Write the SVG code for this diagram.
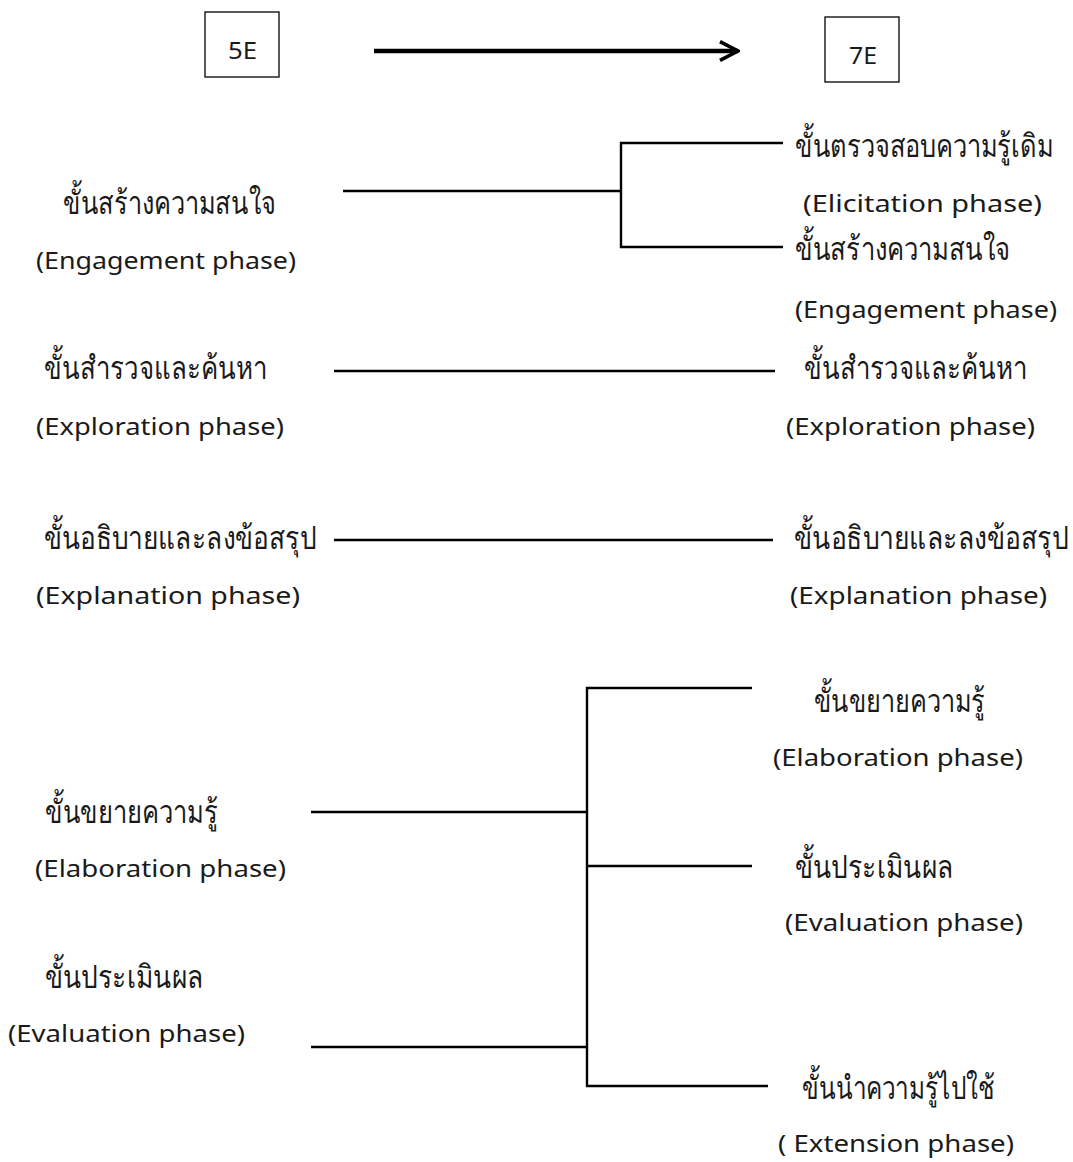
<svg xmlns="http://www.w3.org/2000/svg" width="1073" height="1162" viewBox="0 0 1073 1162">
<style>
text{font-family:"Noto Sans","DejaVu Sans",sans-serif;font-size:24px;fill:#1a1a1a}
text.th{font-size:32px}
.box{fill:#fff;stroke:#000;stroke-width:1.3}
.ln{stroke:#000;stroke-width:2.4;fill:none}
.big{stroke:#000;stroke-width:4.5;fill:none}
</style>
<defs>
<marker id="chev" viewBox="0 0 10 10" refX="9" refY="5" markerWidth="5" markerHeight="7" orient="auto" markerUnits="strokeWidth">
<path d="M1,0.8 L9,5 L1,9.2" fill="none" stroke="#000" stroke-width="1.6" stroke-linejoin="miter"/>
</marker>
</defs>
<rect width="1073" height="1162" fill="#fff"/>
<g id="node-5E"><rect class="box" x="205" y="12" width="74" height="65"/><text x="228" y="59" font-size="22" textLength="29" lengthAdjust="spacingAndGlyphs">5E</text></g>
<g id="node-7E"><rect class="box" x="825" y="17" width="74" height="65"/><text x="849" y="64" font-size="22" textLength="28" lengthAdjust="spacingAndGlyphs">7E</text></g>
<g id="connectors">
<line class="big" x1="374" y1="51" x2="738" y2="51" marker-end="url(#chev)"/>
<path class="ln" d="M343,191 H621 M783,143 H621 V247 H783"/>
<path class="ln" d="M334,371 H775"/>
<path class="ln" d="M334,540 H773"/>
<path class="ln" d="M311,812 H587 M311,1047 H587 M752,688 H587 V1086 H768 M587,866 H752"/>
</g>
<g id="l-engage"><text class="th" transform="translate(63,214) scale(0.8,1)" textLength="266" lengthAdjust="spacingAndGlyphs">ขั้นสร้างความสนใจ</text><text x="36" y="269" textLength="260" lengthAdjust="spacingAndGlyphs">(Engagement phase)</text></g>
<g id="l-explore"><text class="th" transform="translate(44,379) scale(0.8,1)" textLength="279" lengthAdjust="spacingAndGlyphs">ขั้นสำรวจและค้นหา</text><text x="36" y="435" textLength="248" lengthAdjust="spacingAndGlyphs">(Exploration phase)</text></g>
<g id="l-explain"><text class="th" transform="translate(44,549) scale(0.8,1)" textLength="340" lengthAdjust="spacingAndGlyphs">ขั้นอธิบายและลงข้อสรุป</text><text x="36" y="604" textLength="264" lengthAdjust="spacingAndGlyphs">(Explanation  phase)</text></g>
<g id="l-elab"><text class="th" transform="translate(45,823) scale(0.8,1)" textLength="216" lengthAdjust="spacingAndGlyphs">ขั้นขยายความรู้</text><text x="35" y="877" textLength="251" lengthAdjust="spacingAndGlyphs">(Elaboration phase)</text></g>
<g id="l-eval"><text class="th" transform="translate(45,988) scale(0.8,1)" textLength="198" lengthAdjust="spacingAndGlyphs">ขั้นประเมินผล</text><text x="8" y="1042" textLength="237" lengthAdjust="spacingAndGlyphs">(Evaluation phase)</text></g>
<g id="r-elicit"><text class="th" transform="translate(795,157) scale(0.8,1)" textLength="323" lengthAdjust="spacingAndGlyphs">ขั้นตรวจสอบความรู้เดิม</text><text x="803" y="212" textLength="239" lengthAdjust="spacingAndGlyphs">(Elicitation  phase)</text></g>
<g id="r-engage"><text class="th" transform="translate(795,260) scale(0.8,1)" textLength="269" lengthAdjust="spacingAndGlyphs">ขั้นสร้างความสนใจ</text><text x="795" y="318" textLength="262" lengthAdjust="spacingAndGlyphs">(Engagement phase)</text></g>
<g id="r-explore"><text class="th" transform="translate(804,379) scale(0.8,1)" textLength="279" lengthAdjust="spacingAndGlyphs">ขั้นสำรวจและค้นหา</text><text x="786" y="435" textLength="249" lengthAdjust="spacingAndGlyphs">(Exploration phase)</text></g>
<g id="r-explain"><text class="th" transform="translate(794,549) scale(0.8,1)" textLength="343" lengthAdjust="spacingAndGlyphs">ขั้นอธิบายและลงข้อสรุป</text><text x="790" y="604" textLength="257" lengthAdjust="spacingAndGlyphs">(Explanation  phase)</text></g>
<g id="r-elab"><text class="th" transform="translate(814,712) scale(0.8,1)" textLength="214" lengthAdjust="spacingAndGlyphs">ขั้นขยายความรู้</text><text x="773" y="766" textLength="250" lengthAdjust="spacingAndGlyphs">(Elaboration phase)</text></g>
<g id="r-eval"><text class="th" transform="translate(795,878) scale(0.8,1)" textLength="198" lengthAdjust="spacingAndGlyphs">ขั้นประเมินผล</text><text x="785" y="931" textLength="238" lengthAdjust="spacingAndGlyphs">(Evaluation phase)</text></g>
<g id="r-extend"><text class="th" transform="translate(802,1099) scale(0.8,1)" textLength="241" lengthAdjust="spacingAndGlyphs">ขั้นนำความรู้ไปใช้</text><text x="778" y="1152" textLength="236" lengthAdjust="spacingAndGlyphs">( Extension phase)</text></g>
</svg>
